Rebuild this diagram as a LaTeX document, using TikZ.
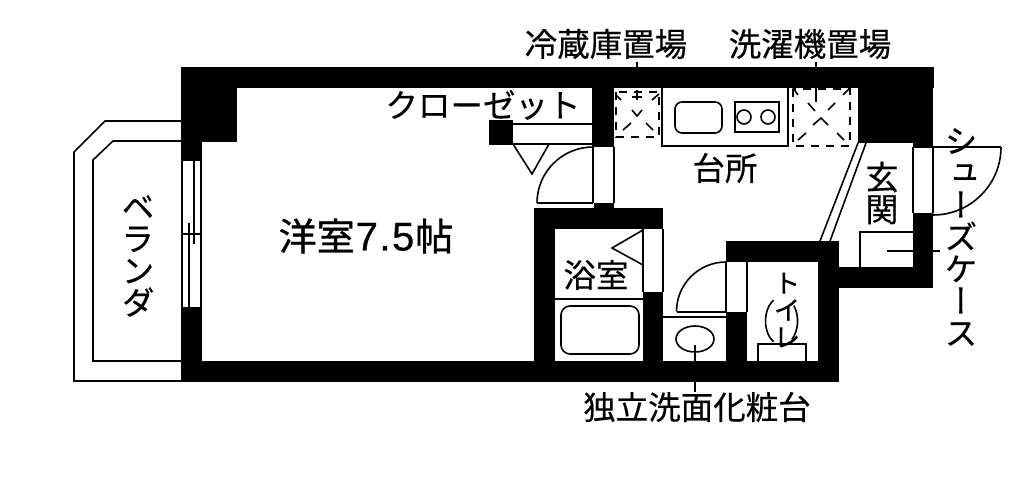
\documentclass[tikz,border=0pt]{standalone}
\usepackage{fontspec}
\setmainfont{Noto Sans CJK JP}
\newfontfamily\jp[FakeBold=0.4]{Noto Sans CJK JP}
\newfontfamily\jpb[FakeBold=0.8]{Noto Sans CJK JP}
\newfontfamily\latn[FakeBold=0.6]{Liberation Sans}
\newfontfamily\jpv[RawFeature={+vert},FakeBold=0.4]{Noto Sans CJK JP}
\tikzset{
  wall/.style={fill=black,draw=none},
  ln/.style={draw=black,line width=1.6pt},
  dsh/.style={draw=black,line width=1.6pt,dash pattern=on 8pt off 7pt},
  lbl/.style={inner sep=0pt,font=\jp\fontsize{32.5}{33}\selectfont,text=black},
  vlbl/.style={inner sep=0pt,align=center,font=\jpv\fontsize{33}{32}\selectfont,text=black},
}
\begin{document}
\begin{tikzpicture}[x=1pt,y=-1pt]
\path[use as bounding box,fill=white] (0,0) rectangle (1024,486);
% veranda
\draw[ln] (181,121) -- (105,121) -- (74,152) -- (74,381) -- (181,381);
\draw[ln] (181,141) -- (113,141) -- (93,160) -- (93,361) -- (181,361);
% walls
\foreach \a/\b/\c/\d in {181/67/934/88, 181/88/237/142, 181/142/202/161, 181/307/202/382, 181/361/839/382,
  489/120/513/144, 592/88/614/147, 594/203/614/208, 534/208/663/229, 534/229/555/361,
  643/292/663/361, 726/241/839/262, 726/312/747/361, 818/262/839/361, 839/267/933/288,
  913/213/933/267, 858/88/933/143, 913/143/933/147}
  {\fill[wall] (\a,\b) rectangle (\c,\d);}
% window
\draw[ln,line width=1.2pt] (182,161) -- (182,307) (201,161) -- (201,307) (181,234) -- (202,234);
\draw[ln] (194,161) -- (194,244) (189,223) -- (189,307);
% closet
\draw[ln] (513,124) -- (592,124) (489,144) -- (592,144);
\draw[ln] (513,144) -- (532,174) -- (549,144);
% closet door
\draw[ln] (593,147) -- (593,203) (614,147) -- (614,203) (593,203) -- (537,203);
\draw[ln] (593,147) arc[start angle=-90,end angle=-180,radius=56];
% kitchen
\draw[ln] (662,88) -- (662,146) -- (788,146) -- (788,88);
\draw[ln,rounded corners=7pt] (675,102) rectangle (722,133);
\draw[ln] (735,102) rectangle (779,132);
\draw[ln] (744,117) circle[radius=7];
\draw[ln] (768,117) circle[radius=7];
% fridge
\draw[dsh] (616,92) rectangle (659,137);
\draw[ln] (616,95) -- (621,100) (632,110) -- (637,116) -- (642,110) (623,130) -- (631,123) (646,123) -- (653,130) (652,100) -- (659,94);
\draw[ln] (637,62) -- (637,67) (637,90) -- (637,100) (632,97) -- (642,97);
% washer
\draw[dsh] (793,89) rectangle (850,146);
\draw[ln] (793,88) -- (798,95) (808,103) -- (815,111) (813,125) -- (821,118) -- (828,125) (828,110) -- (835,103) (843,95) -- (850,88) (798,140) -- (806,133) (837,133) -- (844,140);
\draw[ln] (816,62) -- (816,67) (816,88) -- (816,102);
% bath
\draw[ln] (643,229) -- (643,292) (663,229) -- (663,292);
\draw[ln] (643,230) -- (612,248) -- (643,265);
\draw[ln] (555,299) -- (643,299);
\draw[ln,rounded corners=9pt] (561,306) rectangle (639,354);
% wash room
\draw[ln] (663,317) -- (726,317) (677,312) -- (726,312);
\draw[ln] (726,262) arc[start angle=-90,end angle=-180,radius=49.5];
\draw[ln] (695,339) ellipse[x radius=19,y radius=13];
\draw[ln] (695,345) -- (695,361) (695,382) -- (695,392);
% toilet
\draw[ln] (726,262) -- (726,312) (747,262) -- (747,312);
\draw[ln] (773.5,300.2) arc[start angle=-120,end angle=-240,x radius=16,y radius=24];
\draw[ln] (793.8,305.6) arc[start angle=-40,end angle=50,x radius=16,y radius=24];
\draw[ln] (758,361) -- (758,344) -- (806,344) -- (806,361);
% entrance
\draw[ln] (858,143) -- (820,241) (866,143) -- (830,241);
\draw[ln] (860,267) -- (860,232) -- (913,232);
\draw[ln] (887,251) -- (913,251) (933,251) -- (940,251);
\draw[ln] (913,147) -- (913,213);
\draw[ln] (933,147) -- (933,213);
\draw[ln] (913,147) -- (1001,147);
\draw[ln] (1001,147) arc[start angle=0,end angle=90,radius=68];
% texts
\node[lbl] (reizo) at (606,44) {冷蔵庫置場};
\node[lbl] (sentaku) at (810,44) {洗濯機置場};
\node[lbl] (closet) at (483,105) {クローゼット};
\node[lbl] (kitchen) at (725,168) {台所};
\node[lbl,font=\jpb\fontsize{38}{38}\selectfont] (room) at (366,236) {洋室\hspace{1pt}{\latn\fontsize{40}{40}\selectfont 7\hspace{1.5pt}.\hspace{1.5pt}5}\hspace{1pt}帖};
\node[lbl] (bath) at (596,275) {浴室};
\node[lbl] (senmen) at (697,407) {独立洗面化粧台};
\node[vlbl] (veranda) at (138,256) {ベ\\ラ\\ン\\ダ};
\node[vlbl] (genkan) at (882,193) {玄\\関};
\node[vlbl,font=\jpv\fontsize{27}{27}\selectfont] (toilet) at (787,310) {ト\\イ\\レ};
\node[vlbl] (shoes) at (961,237) {シ\\ュ\\ー\\ズ\\ケ\\ー\\ス};
\end{tikzpicture}
\end{document}
